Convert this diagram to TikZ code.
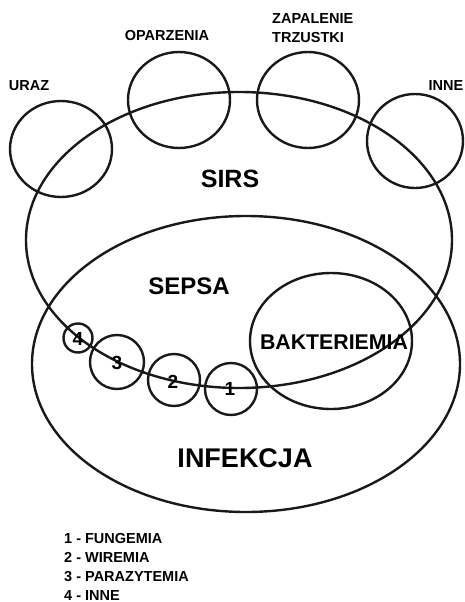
\documentclass[tikz,border=0pt]{standalone}
\usepackage{fontspec}
\setmainfont{Liberation Sans}
\usetikzlibrary{shapes.geometric}
\tikzset{
  ring/.style={draw=black!90, line width=2.4pt},
  lab/.style={font=\bfseries\fontsize{14.5}{19}\selectfont, inner sep=0pt},
  big/.style={font=\bfseries\fontsize{25}{30}\selectfont, inner sep=0pt},
  mid/.style={font=\bfseries\fontsize{24}{28}\selectfont, inner sep=0pt},
  digit/.style={font=\bfseries\fontsize{19}{22}\selectfont, inner sep=0pt},
}
\begin{document}
\begin{tikzpicture}[x=1pt,y=-1pt]
\useasboundingbox (0,0) rectangle (464,602);
% big ellipses
\draw[ring] (239,240) ellipse [x radius=213, y radius=148];
\draw[ring] (246,364) ellipse [x radius=214, y radius=148];
\draw[ring] (331,341) ellipse [x radius=81, y radius=68];
% top circles
\draw[ring] (61,149) ellipse [x radius=51, y radius=48];
\draw[ring] (179,100) ellipse [x radius=51, y radius=48];
\draw[ring] (308,100) ellipse [x radius=51, y radius=48];
\draw[ring] (415,141) ellipse [x radius=48, y radius=47];
% small circles
\draw[ring] (231,389) circle [radius=26];
\draw[ring] (174,380) circle [radius=26];
\draw[ring] (117,362) circle [radius=27];
\draw[ring] (78,338) circle [radius=14.5];
% labels
\node[lab] (uraz) at (29,86) {URAZ};
\node[lab] (oparz) at (167,36) {OPARZENIA};
\node[lab, anchor=west, align=left] (zap) at (272,28) {ZAPALENIE\\TRZUSTKI};
\node[lab] (inne) at (446,86) {INNE};
\node[big] (sirs) at (230,179) {SIRS};
\node[mid] (sepsa) at (189,286) {SEPSA};
\node[font=\bfseries\fontsize{21.3}{25}\selectfont, inner sep=0pt] (bakt) at (334,342) {BAKTERIEMIA};
\node[font=\bfseries\fontsize{27}{32}\selectfont, inner sep=0pt] (infek) at (245,458) {INFEKCJA};
\node[digit] (d1) at (230,389) {1};
\node[digit] (d2) at (173,382) {2};
\node[digit] (d3) at (117,363) {3};
\node[digit] (d4) at (78,339) {4};
% legend
\node[lab, anchor=west, align=left] (legend) at (64,566.5) {1 - FUNGEMIA\\2 - WIREMIA\\3 - PARAZYTEMIA\\4 - INNE};
\end{tikzpicture}
\end{document}
